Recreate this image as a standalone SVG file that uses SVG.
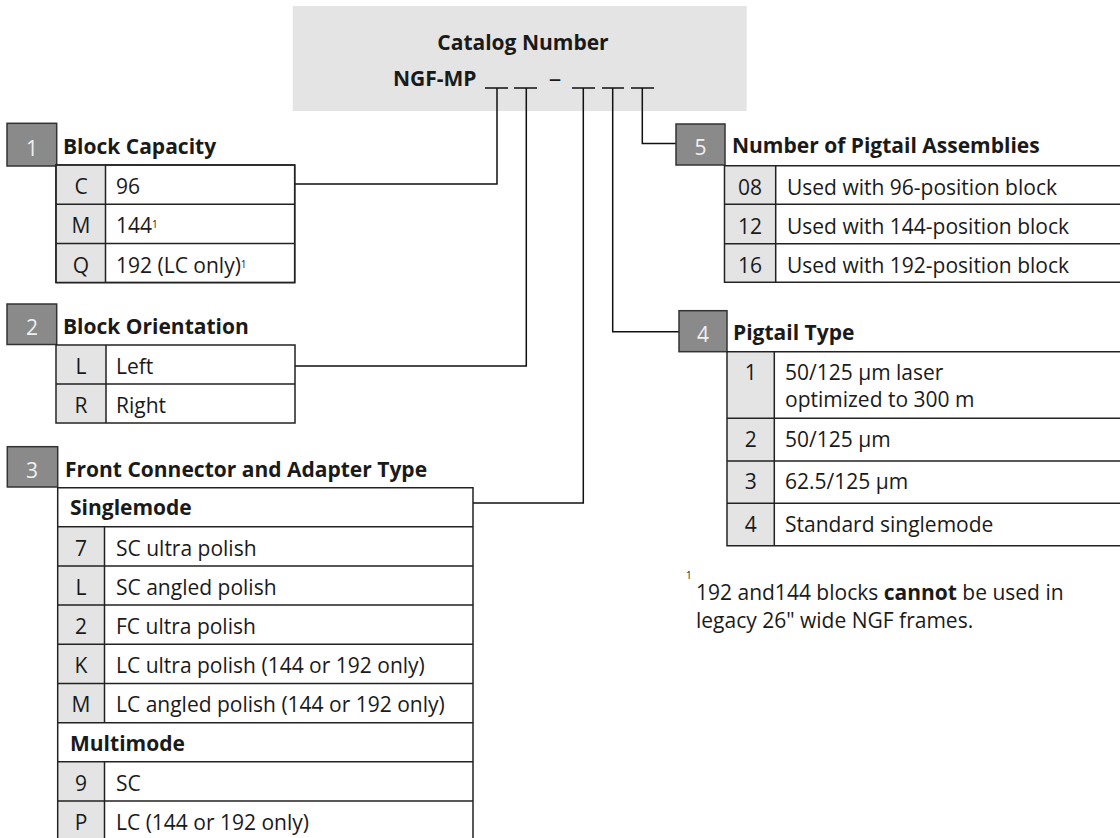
<svg xmlns="http://www.w3.org/2000/svg" width="1120" height="838" viewBox="0 0 1120 838">
<style>
text{font-family:"Open Sans","Noto Sans","Liberation Sans",sans-serif;font-size:21px;fill:#1a1a1a}
.b{font-weight:bold}
.num{fill:#8a8a8a;stroke:#333;stroke-width:1.5}
.nt{fill:#f0f0f0;text-anchor:middle}
.key{fill:#e4e4e4;stroke:none}
.cell{fill:#fff;stroke:#222;stroke-width:1.5}
.ln{stroke:#222;stroke-width:1.5;fill:none}
.k{text-anchor:middle}
.sup{font-size:10px}
.conn{stroke:#111;stroke-width:1.5;fill:none}
</style>
<rect width="1120" height="838" fill="#fff"/>
<g id="header">
<rect x="292.7" y="6" width="454" height="105" fill="#e4e4e4"/>
<text class="b" x="523" y="50" text-anchor="middle">Catalog Number</text>
<text class="b" x="393" y="86">NGF-MP</text>
<text x="555" y="86.5" text-anchor="middle" style="font-size:25px">–</text>
<path class="conn" d="M485 88H508M514 88H537M572 88H595M602 88H624M631 88H654"/>
</g>
<g id="connectors">
<path class="conn" d="M294.7 184H497V88"/>
<path class="conn" d="M295 366H526.3V88"/>
<path class="conn" d="M473 503H583.3V88"/>
<path class="conn" d="M679 331.7H612.7V88"/>
<path class="conn" d="M676 143.5H642.3V88"/>
</g>
<g id="block1">
<rect class="num" x="7" y="123.3" width="49.7" height="42.7"/>
<text class="nt" x="32" y="155.5">1</text>
<text class="b" x="63" y="154">Block Capacity</text>
<rect class="cell" x="56" y="165" width="238.7" height="117.6"/>
<rect class="key" x="56.75" y="165.75" width="48.75" height="116.1"/>
<path class="ln" d="M56 165H294.7V282.6H56ZM105.5 165V282.6M56 204.2H294.7M56 243.4H294.7"/>
<text class="k" x="81" y="194">C</text><text x="116" y="194">96</text>
<text class="k" x="81" y="233">M</text><text x="116" y="233">144<tspan class="sup" dy="-5">1</tspan></text>
<text class="k" x="81" y="272.5">Q</text><text x="116" y="272.5">192 (LC only)<tspan class="sup" dy="-5">1</tspan></text>
</g>
<g id="block2">
<rect class="num" x="7" y="304" width="49.7" height="40.5"/>
<text class="nt" x="32" y="335">2</text>
<text class="b" x="63" y="333.5">Block Orientation</text>
<rect class="key" x="56.75" y="345.75" width="49.25" height="76.5"/>
<path class="ln" d="M56 345H295V423H56ZM106 345V423M56 384H295"/>
<text class="k" x="81" y="374">L</text><text x="116" y="374">Left</text>
<text class="k" x="81" y="413">R</text><text x="116" y="413">Right</text>
</g>
<g id="block3">
<rect class="num" x="7.3" y="446.7" width="50.4" height="40.3"/>
<text class="nt" x="32" y="478">3</text>
<text class="b" x="65" y="476.7">Front Connector and Adapter Type</text>
<rect class="key" x="58.4" y="527.5" width="46.1" height="194.5"/>
<rect class="key" x="58.4" y="762.5" width="46.1" height="80"/>
<path class="ln" d="M57.7 845V487.7H473V845M57.7 526.8H473M57.7 566H473M57.7 605.1H473M57.7 644.3H473M57.7 683.5H473M57.7 722.7H473M57.7 761.8H473M57.7 801H473M104.5 526.8V722.7M104.5 761.8V845"/>
<text class="b" x="70" y="515">Singlemode</text>
<text class="k" x="81" y="555.5">7</text><text x="116" y="555.5">SC ultra polish</text>
<text class="k" x="81" y="594.5">L</text><text x="116" y="594.5">SC angled polish</text>
<text class="k" x="81" y="633.7">2</text><text x="116" y="633.7">FC ultra polish</text>
<text class="k" x="81" y="673">K</text><text x="116" y="673">LC ultra polish (144 or 192 only)</text>
<text class="k" x="81" y="712">M</text><text x="116" y="712">LC angled polish (144 or 192 only)</text>
<text class="b" x="70" y="751">Multimode</text>
<text class="k" x="81" y="790.5">9</text><text x="116" y="790.5">SC</text>
<text class="k" x="81" y="829.5">P</text><text x="116" y="829.5">LC (144 or 192 only)</text>
</g>
<g id="block5">
<rect class="num" x="676" y="124" width="49" height="41"/>
<text class="nt" x="700.5" y="155">5</text>
<text class="b" x="732" y="153">Number of Pigtail Assemblies</text>
<rect class="key" x="725.2" y="166.4" width="50.5" height="115.2"/>
<path class="ln" d="M1125 165.7H724.5V282.3H1125M775.7 165.7V282.3M724.5 204.3H1125M724.5 243.7H1125"/>
<text class="k" x="750" y="194.5">08</text><text x="787" y="194.5">Used with 96-position block</text>
<text class="k" x="750" y="233.5">12</text><text x="787" y="233.5">Used with 144-position block</text>
<text class="k" x="750" y="272.5">16</text><text x="787" y="272.5">Used with 192-position block</text>
</g>
<g id="block4">
<rect class="num" x="679" y="310.7" width="48" height="41"/>
<text class="nt" x="703" y="341.5">4</text>
<text class="b" x="733" y="339.5">Pigtail Type</text>
<rect class="key" x="727.7" y="352.4" width="46.6" height="192.6"/>
<path class="ln" d="M1125 351.7H727V545.7H1125M774.3 351.7V545.7M727 418.3H1125M727 461H1125M727 503.3H1125"/>
<text class="k" x="750.7" y="380">1</text><text x="785" y="380">50/125 µm laser</text>
<text x="785" y="407">optimized to 300 m</text>
<text class="k" x="750.7" y="447">2</text><text x="785" y="447">50/125 µm</text>
<text class="k" x="750.7" y="489">3</text><text x="785" y="489">62.5/125 µm</text>
<text class="k" x="750.7" y="531.5">4</text><text x="785" y="531.5">Standard singlemode</text>
</g>
<g id="footnote">
<text class="sup" x="686" y="579">1</text>
<text x="696" y="599.5">192 and144 blocks <tspan class="b">cannot</tspan> be used in</text>
<text x="696" y="628">legacy 26" wide NGF frames.</text>
</g>
</svg>
